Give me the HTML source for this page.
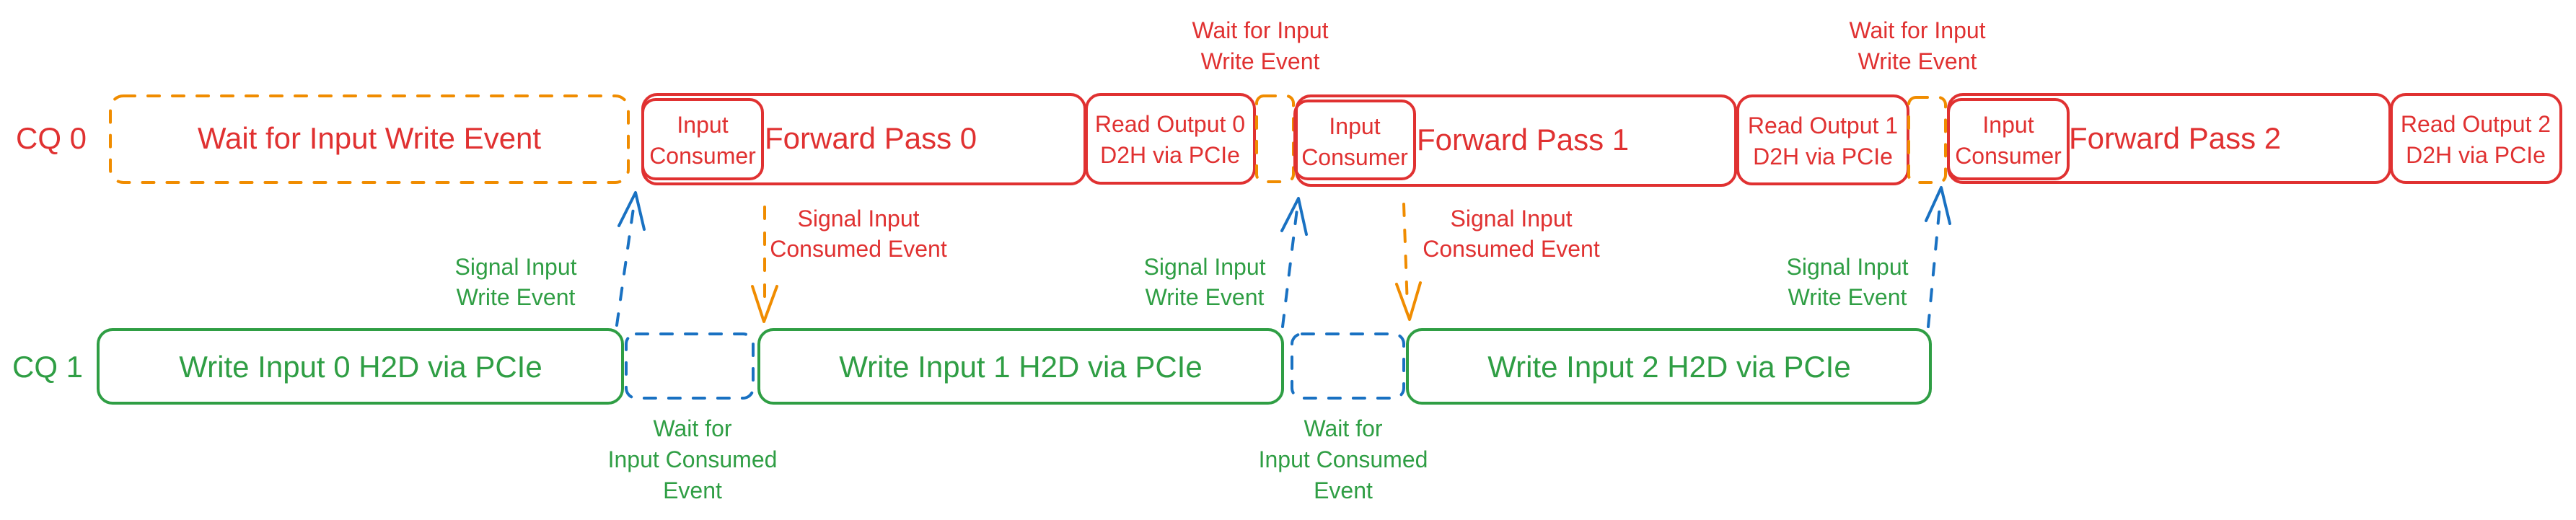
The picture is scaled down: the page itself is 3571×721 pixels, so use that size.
<!DOCTYPE html>
<html><head><meta charset="utf-8"><style>
html,body{margin:0;padding:0;background:#fff;}
svg{display:block;}
text{font-family:"Liberation Sans","DejaVu Sans",sans-serif;}
</style></head><body>
<svg width="3571" height="721" viewBox="0 0 3571 721" xmlns="http://www.w3.org/2000/svg">
<g fill="none" stroke-width="4" stroke-linecap="round" stroke-linejoin="round">
 <!-- CQ0 -->
 <rect x="153" y="133" width="718" height="120" rx="18" stroke="#f08c00" stroke-dasharray="16 18"/>
 <rect x="891" y="131" width="613" height="124" rx="20" stroke="#e03131"/>
 <rect x="891" y="138" width="166" height="110" rx="18" stroke="#e03131"/>
 <rect x="1506" y="131" width="233" height="123" rx="20" stroke="#e03131"/>
 <rect x="1742" y="133" width="51" height="119" rx="10" stroke="#f08c00" stroke-dasharray="16 18"/>
 <rect x="1797" y="133" width="609" height="124" rx="20" stroke="#e03131"/>
 <rect x="1795" y="140" width="166" height="108" rx="18" stroke="#e03131"/>
 <rect x="2409" y="133" width="236" height="122" rx="20" stroke="#e03131"/>
 <rect x="2646" y="135" width="51" height="118" rx="10" stroke="#f08c00" stroke-dasharray="16 18"/>
 <rect x="2701" y="131" width="612" height="122" rx="20" stroke="#e03131"/>
 <rect x="2701" y="138" width="166" height="110" rx="18" stroke="#e03131"/>
 <rect x="3315" y="131" width="235" height="122" rx="20" stroke="#e03131"/>
 <!-- CQ1 -->
 <rect x="136" y="457" width="727" height="102" rx="20" stroke="#2f9e44"/>
 <rect x="868" y="463" width="176" height="89" rx="14" stroke="#1971c2" stroke-dasharray="16 18"/>
 <rect x="1052" y="457" width="726" height="102" rx="20" stroke="#2f9e44"/>
 <rect x="1791" y="463" width="155" height="89" rx="14" stroke="#1971c2" stroke-dasharray="16 18"/>
 <rect x="1951" y="457" width="725" height="102" rx="20" stroke="#2f9e44"/>
 <!-- arrows -->
 <g stroke="#1971c2">
  <path d="M855 451 L879 282" stroke-dasharray="16 20"/>
  <path d="M858 313 L881 267 L893 318"/>
  <path d="M1778 453 L1798 290" stroke-dasharray="16 20"/>
  <path d="M1777 320 L1800 275 L1811 325"/>
  <path d="M2673 453 L2689 285" stroke-dasharray="16 20"/>
  <path d="M2670 306 L2691 260 L2703 310"/>
 </g>
 <g stroke="#f08c00">
  <path d="M1060 287 L1060 430" stroke-dasharray="16 20"/>
  <path d="M1043 397 L1059 446 L1077 397"/>
  <path d="M1946 283 L1951 425" stroke-dasharray="16 20"/>
  <path d="M1936 394 L1954 443 L1969 392"/>
 </g>
</g>
<g font-size="42" text-anchor="middle" fill="#e03131">
 <text x="71" y="206">CQ 0</text>
 <text x="512" y="206">Wait for Input Write Event</text>
</g>
<g font-size="42" fill="#e03131">
 <text x="1060" y="206">Forward Pass 0</text>
 <text x="1964" y="208">Forward Pass 1</text>
 <text x="2868" y="206">Forward Pass 2</text>
</g>
<g font-size="32" text-anchor="middle" fill="#e03131">
 <text x="974" y="184">Input</text><text x="974" y="227">Consumer</text>
 <text x="1878" y="186">Input</text><text x="1878" y="229">Consumer</text>
 <text x="2784" y="184">Input</text><text x="2784" y="227">Consumer</text>
 <text x="1622" y="183">Read Output 0</text><text x="1622" y="226">D2H via PCIe</text>
 <text x="2527" y="185">Read Output 1</text><text x="2527" y="228">D2H via PCIe</text>
 <text x="3432" y="183">Read Output 2</text><text x="3432" y="226">D2H via PCIe</text>
 <text x="1747" y="53">Wait for Input</text><text x="1747" y="96">Write Event</text>
 <text x="2658" y="53">Wait for Input</text><text x="2658" y="96">Write Event</text>
 <text x="1190" y="314">Signal Input</text><text x="1190" y="356">Consumed Event</text>
 <text x="2095" y="314">Signal Input</text><text x="2095" y="356">Consumed Event</text>
</g>
<g font-size="42" text-anchor="middle" fill="#2f9e44">
 <text x="66" y="523">CQ 1</text>
 <text x="500" y="523">Write Input 0 H2D via PCIe</text>
 <text x="1415" y="523">Write Input 1 H2D via PCIe</text>
 <text x="2314" y="523">Write Input 2 H2D via PCIe</text>
</g>
<g font-size="32" text-anchor="middle" fill="#2f9e44">
 <text x="715" y="381">Signal Input</text><text x="715" y="423">Write Event</text>
 <text x="1670" y="381">Signal Input</text><text x="1670" y="423">Write Event</text>
 <text x="2561" y="381">Signal Input</text><text x="2561" y="423">Write Event</text>
 <text x="960" y="605">Wait for</text><text x="960" y="648">Input Consumed</text><text x="960" y="691">Event</text>
 <text x="1862" y="605">Wait for</text><text x="1862" y="648">Input Consumed</text><text x="1862" y="691">Event</text>
</g>
</svg>
</body></html>
